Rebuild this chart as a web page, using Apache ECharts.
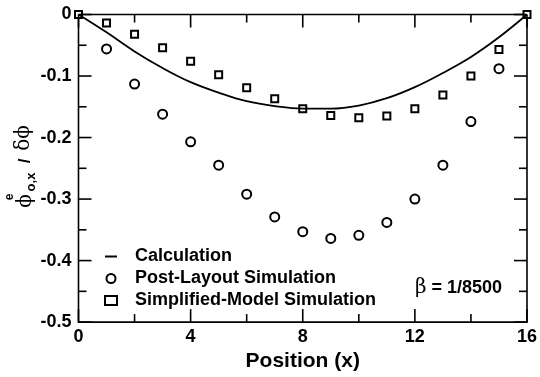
<!DOCTYPE html>
<html>
<head>
<meta charset="utf-8">
<script src="https://cdn.jsdelivr.net/npm/echarts@6/dist/echarts.min.js"></script>
<style>html,body{margin:0;padding:0;background:#fff}#c{width:540px;height:377px}</style>
</head>
<body>
<div id="c"></div>
<script>
var positions = [0,1,2,3,4,5,6,7,8,9,10,11,12,13,14,15,16];
var calculation = [0,-0.029,-0.060,-0.087,-0.110,-0.127,-0.141,-0.149,-0.153,-0.153,-0.148,-0.136,-0.118,-0.095,-0.069,-0.037,0];
var postLayoutX = [1,2,3,4,5,6,7,8,9,10,11,12,13,14,15];
var postLayout = [-0.056,-0.113,-0.162,-0.207,-0.245,-0.292,-0.329,-0.353,-0.364,-0.359,-0.338,-0.300,-0.245,-0.174,-0.088];
var simplified = [0,-0.014,-0.032,-0.054,-0.076,-0.098,-0.119,-0.137,-0.153,-0.164,-0.168,-0.165,-0.153,-0.131,-0.100,-0.057,0];
var xTicks = [0,4,8,12,16];
var xMinorTicks = [2,6,10,14];
var yTicks = [0,-0.1,-0.2,-0.3,-0.4,-0.5];
var yMinorTicks = [-0.05,-0.15,-0.25,-0.35,-0.45];

function pairs(xs, ys){ return xs.map(function(x,i){ return [x, ys[i]]; }); }

var sans = '"Liberation Sans", Arial, sans-serif';
var serif = '"DejaVu Serif", "Liberation Serif", serif';
var black = '#000';
var W = 1.6;
var MAJOR = 13, MINOR = 8;

var xMin = xTicks[0], xMax = xTicks[xTicks.length-1];
var yMin = yTicks[yTicks.length-1], yMax = yTicks[0];

// x tick items sit on the top edge: [x value, yMax, major flag]
var xTickItems = xTicks.map(function(v){ return [v, yMax, 1]; })
  .concat(xMinorTicks.map(function(v){ return [v, yMax, 0]; }));
// y tick items sit on the left edge: [xMin, y value, major flag]
var yTickItems = yTicks.map(function(v){ return [xMin, v, 1]; })
  .concat(yMinorTicks.map(function(v){ return [xMin, v, 0]; }));

function renderXTick(params, api){
  var v = api.value(0), L = api.value(2) === 1 ? MAJOR : MINOR;
  var t = api.coord([v, yMax]), b = api.coord([v, yMin]);
  return {type: 'group', children: [
    {type: 'rect', shape: {x: t[0] - W/2, y: t[1], width: W, height: L}, style: {fill: black}},
    {type: 'rect', shape: {x: b[0] - W/2, y: b[1] - L, width: W, height: L}, style: {fill: black}}
  ]};
}
function renderYTick(params, api){
  var v = api.value(1), L = api.value(2) === 1 ? MAJOR : MINOR;
  var l = api.coord([xMin, v]), r = api.coord([xMax, v]);
  return {type: 'group', children: [
    {type: 'rect', shape: {x: l[0], y: l[1] - W/2, width: L, height: W}, style: {fill: black}},
    {type: 'rect', shape: {x: r[0] - L, y: r[1] - W/2, width: L, height: W}, style: {fill: black}}
  ]};
}

var chart = echarts.init(document.getElementById('c'), null, {renderer: 'canvas'});

function rotText(x, y, text, font){
  return {type: 'text', x: x, y: y, rotation: Math.PI/2, z: 10,
    style: {text: text, font: font, fill: black, textAlign: 'center', textVerticalAlign: 'middle'}};
}

var option = {
  animation: false,
  backgroundColor: '#fff',
  grid: {left: 78.5, right: 8.5, top: 14.5, bottom: 47, show: true, borderColor: black, borderWidth: W, backgroundColor: 'transparent'},
  xAxis: {
    type: 'value', position: 'bottom', min: xMin, max: xMax, interval: 4,
    axisLine: {show: false}, axisTick: {show: false}, splitLine: {show: false},
    axisLabel: {show: true, color: black, fontFamily: sans, fontWeight: 'bold', fontSize: 18, margin: 6},
    name: 'Position (x)', nameLocation: 'middle', nameGap: 25,
    nameTextStyle: {color: black, fontFamily: sans, fontWeight: 'bold', fontSize: 21}
  },
  yAxis: {
    type: 'value', position: 'left', min: yMin, max: yMax, interval: 0.1,
    axisLine: {show: false}, axisTick: {show: false}, splitLine: {show: false},
    axisLabel: {show: true, color: black, fontFamily: sans, fontWeight: 'bold', fontSize: 18, margin: 7,
      formatter: function(v){ return Math.abs(v) < 1e-9 ? '0' : v.toFixed(1); }}
  },
  legend: {
    orient: 'vertical', left: 99, top: 242.5, itemWidth: 12, itemHeight: 9, itemGap: 4,
    formatter: '{a|{name}}',
    textStyle: {color: black, fontFamily: sans, fontWeight: 'bold', fontSize: 18, lineHeight: 18,
      rich: {a: {fontFamily: sans, fontWeight: 'bold', fontSize: 18, lineHeight: 18, padding: [0,0,0,13]}}},
    data: [{name: 'Calculation', itemStyle: {opacity: 0}}, 'Post-Layout Simulation', 'Simplified-Model Simulation']
  },
  graphic: [
    rotText(26, 201, '\u03D5', '20px ' + serif),
    rotText(10, 197, 'e', 'bold 12px ' + sans),
    rotText(31, 182, 'o,x', 'bold 13px ' + sans),
    rotText(25, 161, '/', 'bold 17px ' + sans),
    rotText(24, 138, '\u03B4\u03D5', '20px ' + serif),
    {type: 'text', x: 415, y: 288, z: 10,
      style: {text: '{b|\u03B2}{t| = 1/8500}', textVerticalAlign: 'middle', textAlign: 'left',
        rich: {b: {fontFamily: serif, fontSize: 20, fill: black, color: black},
               t: {fontFamily: sans, fontWeight: 'bold', fontSize: 18, fill: black, color: black}}}}
  ],
  series: [
    {name: 'xticks', type: 'custom', renderItem: renderXTick, data: xTickItems, clip: false, silent: true,
      encode: {x: 0, y: 1}, z: 10},
    {name: 'yticks', type: 'custom', renderItem: renderYTick, data: yTickItems, clip: false, silent: true,
      encode: {x: 0, y: 1}, z: 10},
    {name: 'Calculation', type: 'line', data: pairs(positions, calculation),
      smooth: 0.4, showSymbol: false, symbol: 'none', clip: false,
      lineStyle: {color: black, width: 1.8}, itemStyle: {color: black}},
    {name: 'Post-Layout Simulation', type: 'scatter', data: pairs(postLayoutX, postLayout),
      symbol: 'emptyCircle', symbolSize: 9, clip: false,
      itemStyle: {color: black, borderColor: black, borderWidth: 1.8, opacity: 1}},
    {name: 'Simplified-Model Simulation', type: 'scatter', data: pairs(positions, simplified),
      symbol: 'emptyRect', symbolSize: 7, clip: false,
      itemStyle: {color: black, borderColor: black, borderWidth: 1.8, opacity: 1}}
  ]
};
chart.setOption(option);
</script>
</body>
</html>
